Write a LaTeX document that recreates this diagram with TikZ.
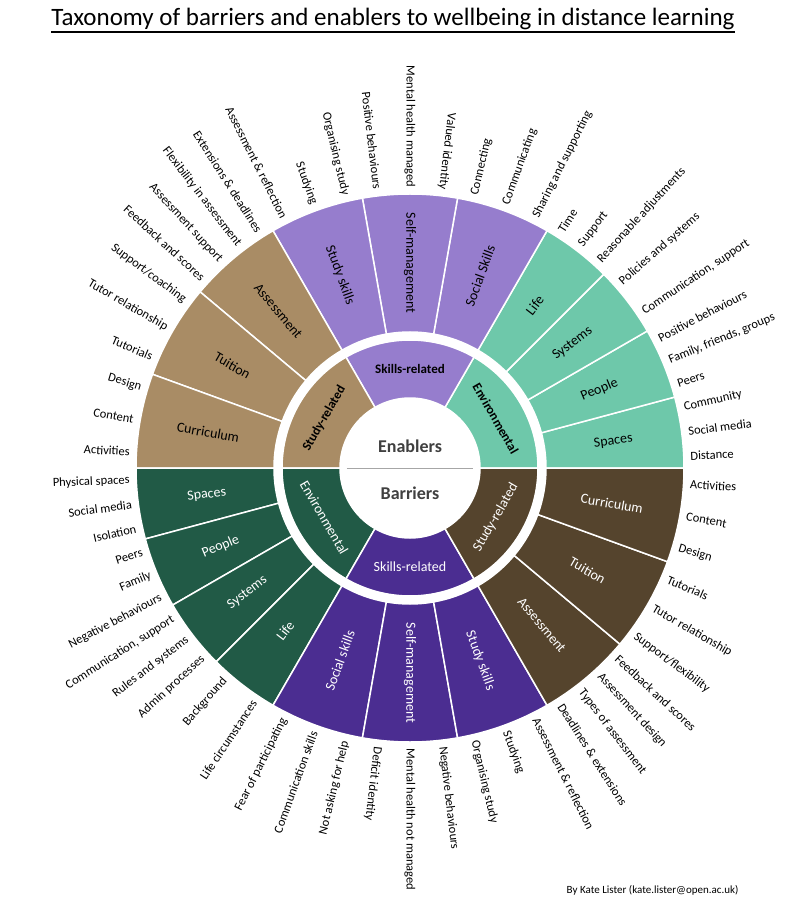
\documentclass[tikz,border=0pt]{standalone}
\usepackage{fontspec}
\setmainfont{Carlito}
\definecolor{tan}{HTML}{A98C65}
\definecolor{lpur}{HTML}{967DCD}
\definecolor{teal}{HTML}{6EC8AA}
\definecolor{dgreen}{HTML}{215A46}
\definecolor{dpur}{HTML}{4B2D91}
\definecolor{dbrown}{HTML}{55442D}
\tikzset{
  leaf/.style={font=\fontsize{12.5}{14}\selectfont, inner sep=1.5pt},
  seglbl/.style={font=\fontsize{14}{16}\selectfont, inner sep=0pt},
  sect/.style={draw=white, line width=1.5pt}
}
\newcommand\sector[5]{% color, start, end, rin, rout
  \fill[#1,sect] (#2:#4pt) arc[start angle=#2,end angle=#3,radius=#4pt] -- (#3:#5pt) arc[start angle=#3,end angle=#2,radius=#5pt] -- cycle;}
\begin{document}
\begin{tikzpicture}[x=1pt,y=1pt]
\useasboundingbox[fill=white] (-410,-450) rectangle (400,468);
% outer ring
\foreach \s/\e/\c/\t/\tc in {0/15/teal/Spaces/black,15/30/teal/People/black,30/45/teal/Systems/black,45/60/teal/Life/black,
  60/80/lpur/Social Skills/black,80/100/lpur/Self-management/black,100/120/lpur/Study skills/black,
  120/140/tan/Assessment/black,140/160/tan/Tuition/black,160/180/tan/Curriculum/black,
  180/195/dgreen/Spaces/white,195/210/dgreen/People/white,210/225/dgreen/Systems/white,225/240/dgreen/Life/white,
  240/260/dpur/Social skills/white,260/280/dpur/Self-management/white,280/300/dpur/Study skills/white,
  300/320/dbrown/Assessment/white,320/340/dbrown/Tuition/white,340/360/dbrown/Curriculum/white}{
  \sector{\c}{\s}{\e}{136}{274}
  \pgfmathsetmacro\m{(\s+\e)/2}
  \pgfmathtruncatemacro\isl{(\m>80 && \m<260) ? 1 : 0}
  \ifnum\isl=1
    \node[seglbl,text=\tc,rotate=\m-180] (s\s) at (\m:205pt) {\t};
  \else
    \node[seglbl,text=\tc,rotate=\m] (s\s) at (\m:205pt) {\t};
  \fi
}
% inner ring
\sector{teal}{0}{60}{70}{128}
\sector{lpur}{60}{120}{70}{128}
\sector{tan}{120}{180}{70}{128}
\sector{dgreen}{180}{240}{70}{128}
\sector{dpur}{240}{300}{70}{128}
\sector{dbrown}{300}{360}{70}{128}
\tikzset{inl/.style={font=\fontsize{13}{15}\selectfont\bfseries, inner sep=0pt}, inlb/.style={font=\fontsize{14}{16}\selectfont, text=white, inner sep=0pt}}
\node[inl,rotate=-60] (i1) at (30:99pt) {Environmental};
\node[inl] (i2) at (90:99pt) {Skills-related};
\node[inl,rotate=60] (i3) at (150:99pt) {Study-related};
\node[inlb,rotate=-60] (i4) at (210:99pt) {Environmental};
\node[inlb] (i5) at (270:99pt) {Skills-related};
\node[inlb,rotate=60] (i6) at (330:99pt) {Study-related};
% centre
\fill[white] (0,0) circle (70pt);
\draw[gray!70, line width=1pt] (-63,0) -- (63,0);
\node[font=\fontsize{18}{20}\selectfont\bfseries, text=black!75] (en) at (0,22) {Enablers};
\node[font=\fontsize{18}{20}\selectfont\bfseries, text=black!75] (ba) at (0,-25) {Barriers};
% leaves
\foreach \a/\t in {2.5/Distance,7.5/Social media,12.5/Community,
  17.5/Peers,22.5/{Family,  friends, groups},27.5/Positive behaviours,
  33.75/{Communication, support},41.25/Policies and systems,
  47.5/Reasonable adjustments,52.5/Support,57.5/Time,
  63.33/Sharing and supporting,70/Communicating,76.67/Connecting,
  83.33/Valued identity,90/Mental health managed,96.67/Positive behaviours,
  103.33/Organising study,110/Studying,116.67/Assessment \& reflection,
  122.5/Extensions \& deadlines,127.5/Flexibility in assessment,132.5/Assessment support,137.5/Feedback and scores,
  143.33/{Support/coaching},150/Tutor relationship,156.67/Tutorials,
  163.33/Design,170/Content,176.67/Activities,
  182.5/Physical spaces,187.5/Social media,192.5/Isolation,
  197.5/Peers,202.5/Family,207.5/Negative behaviours,
  212.5/{Communication, support},217.5/Rules and systems,222.5/Admin processes,
  228.75/Background,236.25/Life circumstances,
  243.33/Fear of participating,250/Communication skills,256.67/Not asking for help,
  263.33/Deficit identity,270/Mental health not managed,276.67/Negative behaviours,
  283.33/Organising study,290/Studying,296.67/Assessment \& reflection,
  302.5/Deadlines \& extensions,307.5/Types of assessment,312.5/Assessment design,317.5/Feedback and scores,
  323.33/{Support/flexibility},330/Tutor relationship,336.67/Tutorials,
  343.33/Design,350/Content,356.67/Activities}{
  \pgfmathtruncatemacro\isl{(\a>80 && \a<260) ? 1 : 0}
  \ifnum\isl=1
    \node[leaf,anchor=east,rotate=\a-180] at (\a:279pt) {\t};
  \else
    \node[leaf,anchor=west,rotate=\a] at (\a:279pt) {\t};
  \fi
}
% title and footer
\node[font=\fontsize{25}{29}\selectfont, inner sep=0pt] (title) at (-17,449) {Taxonomy of barriers and enablers to wellbeing in distance learning};
\draw[line width=1.2pt] (title.south west) ++(0,-2) -- ([yshift=-2pt]title.south east);
\node[font=\fontsize{11}{13}\selectfont, anchor=east] (foot) at (332,-422) {By Kate Lister (kate.lister@open.ac.uk)};
\end{tikzpicture}
\end{document}
